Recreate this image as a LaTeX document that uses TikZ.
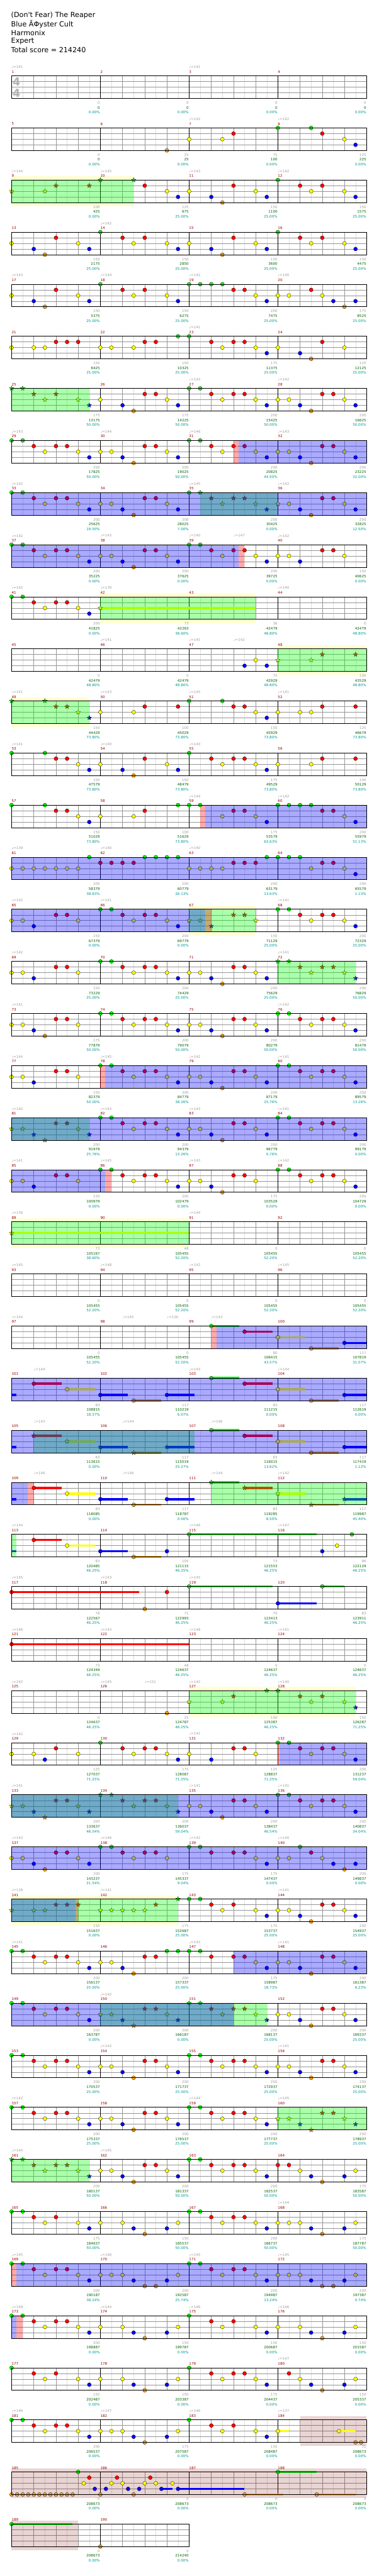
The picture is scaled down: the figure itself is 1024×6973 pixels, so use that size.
\documentclass[tikz,border=0pt]{standalone}
\usepackage{fontspec}
\setmainfont{DejaVu Sans}[Ligatures=TeXOff]
\usetikzlibrary{shapes.geometric}

\definecolor{colg}{RGB}{0,255,0}
\definecolor{colr}{RGB}{255,0,0}
\definecolor{coly}{RGB}{255,255,0}
\definecolor{colb}{RGB}{0,0,255}
\definecolor{colo}{RGB}{255,165,0}
\definecolor{barred}{RGB}{150,0,0}
\definecolor{tempogrey}{RGB}{160,160,160}
\definecolor{totgreen}{RGB}{0,100,0}
\definecolor{pctteal}{RGB}{0,150,150}
\definecolor{palesp}{RGB}{255,255,210}
\definecolor{solored}{RGB}{128,0,0}
\definecolor{gridlight}{RGB}{222,222,222}
\definecolor{gridmid}{RGB}{150,150,150}

% lane of each fret colour
\def\laneg{0}\def\laner{1}\def\laney{2}\def\laneb{3}\def\laneo{4}

% staff of one row, n eighths long
\newcommand{\StaffGrid}[1]{%
  \pgfmathtruncatemacro\lastx{#1-1}%
  \foreach \i in {1,3,...,\lastx} \draw[eighthline] (\i,0) -- (\i,4);
  \foreach \j in {1,2,3} \draw[laneline] (0,\j) -- (#1,\j);
  \foreach \i in {2,4,...,\lastx} \draw[beatline] (\i,0) -- (\i,4);
  \foreach \i in {8,16,...,\lastx} \draw[barline] (\i,0) -- (\i,4);
}
\newcommand{\StaffBox}[1]{\draw[staffbox] (0,0) rectangle (#1,4);}
% notes, star notes and sustains
\newcommand{\Notes}[1]{\foreach \p/\c [count=\i] in {#1} {%
  \edef\lanenum{\csname lane\c\endcsname}%
  \node[note=\c] (n\rowid-\i) at (\p,\lanenum) {};}}
\newcommand{\Stars}[1]{\foreach \p/\c [count=\i] in {#1} {%
  \edef\lanenum{\csname lane\c\endcsname}%
  \node[spnote=\c] (st\rowid-\i) at (\p,\lanenum) {};}}
\newcommand{\Sus}[1]{\foreach \a/\b/\c in {#1} {%
  \edef\lanenum{\csname lane\c\endcsname}%
  \draw[sus=\c] (\a,\lanenum) -- (\b,\lanenum);}}
% shaded zones
\newcommand{\PaleZone}[2]{\fill[palesp] (#1,-0.656) rectangle (#2,4.656);
  \fill[white] (#1,0) rectangle (#2,4);}
\newcommand{\SoloZone}[2]{\fill[solozone] (#1,-0.656) rectangle (#2,4.656);}
\newcommand{\PhraseZone}[2]{\fill[phrase] (#1,0) rectangle (#2,4);}
\newcommand{\ActZone}[2]{\fill[active] (#1,0) rectangle (#2,4);}
\newcommand{\EarlyZone}[2]{\fill[early] (#1,0) rectangle (#2,4);}
% texts round a row
\newcommand{\Bars}[1]{\foreach \k in {1,...,#1} {%
  \pgfmathtruncatemacro\mnum{4*\rowid+\k}%
  \node[barno] (m\mnum) at ({8*(\k-1)},-0.72) {\mnum};}}
\newcommand{\Tempi}[1]{\foreach \p/\t [count=\i] in {#1}
  \node[tempo] (tm\rowid-\i) at (\p,-1.57) {♩=\t};}
\newcommand{\Counts}[1]{\foreach \a/\b/\c [count=\k] in {#1} {%
  \node[cnt] (cn\rowid-\k) at (8*\k,4.79) {\a};
  \node[tot] (tt\rowid-\k) at (8*\k,5.64) {\b};
  \node[pct] (pc\rowid-\k) at (8*\k,6.49) {\c\%};}}

\begin{document}
\begin{tikzpicture}[
    x=1pt, y=-1pt,
    chartrow/.style={shift={(31.35pt,{-(205.3+141*#1)*1pt})}, x=30pt, y=-15.25pt, rowid=#1},
    rowid/.code={\def\rowid{#1}},
    eighthline/.style={draw=gridlight, line width=0.6pt},
    beatline/.style={draw=gridmid, line width=0.6pt},
    laneline/.style={draw=gridmid, line width=0.8pt},
    barline/.style={draw=black, line width=0.7pt},
    staffbox/.style={draw=black, line width=1.2pt},
    note/.style={circle, draw=black, line width=0.5pt, fill=col#1,
        minimum size=10.5pt, inner sep=0pt},
    spnote/.style={shape=star, star points=5, star point ratio=2.3,
        draw=black, line width=0.4pt, fill=col#1, minimum size=13pt, inner sep=0pt},
    sus/.style={draw=col#1, line width=6pt},
    phrase/.style={fill=colg, opacity=0.333},
    active/.style={fill=colb, opacity=0.333},
    early/.style={fill=colr, opacity=0.333},
    solozone/.style={fill=solored, opacity=0.17},
    title/.style={anchor=west, inner sep=0pt, font=\fontsize{19}{22}\selectfont},
    timesig/.style={inner sep=0pt, text=black!30, font=\fontsize{30}{30}\selectfont\bfseries},
    barno/.style={anchor=west, inner sep=0pt, text=barred, font=\fontsize{9.5}{11}\selectfont},
    tempo/.style={anchor=west, inner sep=0pt, text=tempogrey, font=\fontsize{9.5}{11}\selectfont},
    cnt/.style={anchor=east, inner sep=0pt, xshift=-1pt, text=tempogrey, font=\fontsize{9.5}{11}\selectfont},
    tot/.style={cnt, text=totgreen},
    pct/.style={cnt, text=pctteal}
]
\useasboundingbox (0,0) rectangle (1024,6973);
\fill[white] (0,0) rectangle (1024,6973);

% Header
\node[title] (song) at (30,42.3) {(Don't Fear) The Reaper};
\node[title] (artist) at (30,65) {Blue ÃΦyster Cult};
\node[title] (charter) at (30,88.3) {Harmonix};
\node[title] (level) at (30,111) {Expert};
\node[title] (total) at (30,134.3) {Total score = 214240};

% measures 1-4
\begin{scope}[chartrow=0]
  \StaffGrid{32}
  \StaffBox{32}
  \node[timesig] (sig1) at (0.445,1.02) {4};
  \node[timesig] (sig2) at (0.445,3.04) {4};
  \Bars{4}
  \Tempi{0/141,16/141}
  \Counts{0/0/0.00,0/0/0.00,0/0/0.00,0/0/0.00}
\end{scope}

% measures 5-8
\begin{scope}[chartrow=1]
  \StaffGrid{32}
  \Notes{14/o,16/y,19/y,20/r,24/g,27/g,28/r,30/y,31/b}
  \StaffBox{32}
  \Bars{4}
  \Tempi{16/142,24/142}
  \Counts{0/0/0.00,25/25/0.00,75/100/0.00,125/225/0.00}
\end{scope}

% measures 9-12
\begin{scope}[chartrow=2]
  \PaleZone{0}{11}
  \StaffGrid{32}
  \Notes{12/r,14/y,15/b,16/y,18/b,19/o,20/r,22/y,23/b,24/g,26/r,27/y,28/r,30/y,31/b}
  \Stars{0/y,3/y,4/r,7/r,8/g,11/g}
  \PhraseZone{0}{11}
  \StaffBox{32}
  \Bars{4}
  \Tempi{0/144,8/145,16/143,24/142}
  \Counts{100/425/0.00,125/675/25.00,150/1100/25.00,150/1575/25.00}
\end{scope}

% measures 13-16
\begin{scope}[chartrow=3]
  \StaffGrid{32}
  \Notes{0/y,2/b,3/o,4/r,6/y,7/b,8/g,10/r,11/y,12/r,14/y,15/b,16/y,18/b,19/o,20/r,22/y,23/b,24/g,26/r,27/y,28/r,30/y,31/b}
  \StaffBox{32}
  \Bars{4}
  \Tempi{8/142}
  \Counts{150/2175/25.00,150/2850/25.00,150/3600/25.00,150/4475/25.00}
\end{scope}

% measures 17-20
\begin{scope}[chartrow=4]
  \StaffGrid{32}
  \Notes{0/y,2/b,3/o,4/r,6/y,7/b,8/g,10/r,11/y,12/r,14/y,15/b,16/g,17/g,18/g,19/g,20/r,21/r,22/y,23/b,24/y,25/y,27/r,28/y,29/b,30/o,31/b}
  \StaffBox{32}
  \Bars{4}
  \Tempi{0/143,8/144,16/142,24/140}
  \Counts{150/5375/25.00,150/6275/25.00,200/7475/25.00,175/8525/25.00}
\end{scope}

% measures 21-24
\begin{scope}[chartrow=5]
  \StaffGrid{32}
  \Notes{0/y,2/y,3/y,4/r,5/r,6/r,8/y,9/y,11/y,12/r,13/r,15/g,16/g,18/r,19/y,20/r,21/r,22/y,23/b,24/y,26/b,27/o,28/r,30/y}
  \StaffBox{32}
  \Bars{4}
  \Tempi{16/141}
  \Counts{150/9425/25.00,150/10325/25.00,175/11375/25.00,125/12125/25.00}
\end{scope}

% measures 25-28
\begin{scope}[chartrow=6]
  \StaffGrid{32}
  \Notes{8/y,10/b,11/o,12/r,13/r,14/y,15/b,16/g,17/g,18/r,19/y,20/r,21/r,22/y,23/b,24/y,25/y,26/b,27/o,28/r,29/r,30/y,31/b}
  \Stars{0/g,1/g,2/r,3/y,4/r,6/y,7/b}
  \PhraseZone{0}{7}
  \StaffBox{32}
  \Bars{4}
  \Tempi{16/143,24/142}
  \Counts{175/13175/50.00,175/14225/50.00,200/15425/50.00,200/16625/50.00}
\end{scope}

% measures 29-32
\begin{scope}[chartrow=7]
  \StaffGrid{32}
  \Notes{0/g,1/g,2/r,3/y,4/r,5/r,6/y,7/b,8/y,9/y,10/b,11/o,12/r,13/r,14/y,15/b,16/g,17/g,18/r,19/y,20/r,21/r,22/y,23/b,24/y,25/y,26/b,27/o,28/r,29/r,30/y,31/b}
  \ActZone{20.45}{32}
  \EarlyZone{20}{20.45}
  \StaffBox{32}
  \Bars{4}
  \Tempi{0/143,8/144,16/146,24/143}
  \Counts{200/17825/50.00,200/19025/50.00,200/20825/44.50,200/23225/32.00}
\end{scope}

% measures 33-36
\begin{scope}[chartrow=8]
  \StaffGrid{32}
  \Notes{0/g,1/g,2/r,3/y,4/r,5/r,6/y,7/b,8/y,9/y,10/b,11/o,12/r,13/r,14/y,15/b,16/g,25/y,26/b,27/o,28/r,29/r,30/y,31/b}
  \Stars{17/g,18/r,19/y,20/r,21/r,22/y,23/b,24/y}
  \PhraseZone{17}{24}
  \ActZone{0}{32}
  \StaffBox{32}
  \Bars{4}
  \Tempi{0/142,16/145,24/142}
  \Counts{200/25625/19.50,200/28025/7.00,200/30425/0.00,200/32825/12.50}
\end{scope}

% measures 37-40
\begin{scope}[chartrow=9]
  \StaffGrid{32}
  \Notes{0/g,1/g,2/r,3/y,4/r,5/r,6/y,7/b,8/y,9/y,10/b,11/o,12/r,13/r,14/y,15/b,16/g,17/g,18/r,19/y,20/r,21/r,22/y,23/b,24/y,25/y,26/b,28/r,29/r,30/y}
  \ActZone{0}{20.45}
  \EarlyZone{20.45}{21}
  \StaffBox{32}
  \Bars{4}
  \Tempi{0/142,8/143,16/140,20/147,24/142}
  \Counts{200/35225/0.00,200/37625/0.00,200/39725/0.00,150/40625/0.00}
\end{scope}

% measures 41-44
\begin{scope}[chartrow=10]
  \PaleZone{8}{22}
  \StaffGrid{32}
  \Sus{8/22/y}
  \Notes{0/g,1/g,2/r,3/y,4/r,5/r,6/y,7/b}
  \Stars{8/y}
  \PhraseZone{8}{22}
  \StaffBox{32}
  \Bars{4}
  \Tempi{0/142,8/139,24/140}
  \Counts{200/41825/0.00,73/42263/38.60,36/42479/48.80,0/42479/48.80}
\end{scope}

% measures 45-48
\begin{scope}[chartrow=11]
  \PaleZone{24}{32}
  \StaffGrid{32}
  \Notes{21/b,22/y,23/b}
  \Stars{24/y,27/y,28/r,31/r}
  \PhraseZone{24}{32}
  \StaffBox{32}
  \Bars{4}
  \Tempi{8/141,16/145,20/142}
  \Counts{0/42479/48.80,0/42479/48.80,75/42929/48.80,100/43529/48.80}
\end{scope}

% measures 49-52
\begin{scope}[chartrow=12]
  \PaleZone{0}{7}
  \StaffGrid{32}
  \Notes{8/y,11/y,12/r,15/r,16/g,19/g,20/r,21/r,22/y,23/b,24/y,26/y,27/y,28/r,31/r}
  \Stars{0/g,3/g,4/r,5/r,6/y,7/b}
  \PhraseZone{0}{7}
  \StaffBox{32}
  \Bars{4}
  \Tempi{0/141,8/143,16/145,24/141}
  \Counts{150/44429/73.80,100/45029/73.80,150/45929/73.80,125/46679/73.80}
\end{scope}

% measures 53-56
\begin{scope}[chartrow=13]
  \StaffGrid{32}
  \Notes{0/g,3/g,4/r,5/r,6/y,7/b,8/y,10/b,11/o,12/r,14/y,15/b,16/g,18/r,19/y,20/r,21/r,22/y,23/b,24/y,27/y,28/r,31/r}
  \StaffBox{32}
  \Bars{4}
  \Tempi{0/141,8/140,16/140}
  \Counts{150/47579/73.80,150/48479/73.80,175/49529/73.80,100/50129/73.80}
\end{scope}

% measures 57-60
\begin{scope}[chartrow=14]
  \StaffGrid{32}
  \Notes{0/g,3/g,4/r,5/r,6/y,7/b,8/y,11/y,12/r,15/g,16/g,17/g,19/y,20/r,21/r,22/y,23/b,24/g,25/g,26/g,27/g,28/r,29/r,30/y,31/b}
  \ActZone{17.45}{32}
  \EarlyZone{17}{17.45}
  \StaffBox{32}
  \Bars{4}
  \Tempi{16/144,24/142}
  \Counts{150/51029/73.80,100/51629/73.80,175/53579/63.63,200/55979/51.13}
\end{scope}

% measures 61-64
\begin{scope}[chartrow=15]
  \StaffGrid{32}
  \Notes{0/y,1/y,2/y,3/y,4/y,5/y,6/y,7/g,8/r,9/r,10/r,11/r,12/g,13/g,14/g,15/g,16/y,17/y,18/y,19/y,20/r,21/r,22/r,23/g,24/g,25/g,26/g,27/y,28/r,29/r,30/y,31/b}
  \ActZone{0}{32}
  \StaffBox{32}
  \Bars{4}
  \Tempi{0/139,8/140,16/140}
  \Counts{200/58379/38.63,200/60779/26.13,200/63179/13.63,200/65579/1.13}
\end{scope}

% measures 65-68
\begin{scope}[chartrow=16]
  \PaleZone{16}{22}
  \StaffGrid{32}
  \Notes{0/y,1/y,2/b,4/r,5/r,6/y,8/g,9/g,10/r,11/y,12/r,13/r,14/y,15/b,24/g,25/g,26/r,27/y,28/r,29/r,30/y,31/b}
  \Stars{16/y,17/y,18/b,20/r,21/r,22/y}
  \PhraseZone{16}{22}
  \ActZone{0}{17.45}
  \EarlyZone{17.45}{18}
  \StaffBox{32}
  \Bars{4}
  \Tempi{0/142,8/141,24/141}
  \Counts{150/67379/0.00,200/69779/0.00,150/71129/25.00,200/72329/25.00}
\end{scope}

% measures 69-72
\begin{scope}[chartrow=17]
  \StaffGrid{32}
  \Notes{0/y,1/y,2/b,4/r,5/r,6/y,8/g,9/g,10/r,11/y,12/r,13/r,14/y,15/b,16/y,17/y,18/b,19/o,20/r,21/r,22/y,23/b}
  \Stars{24/g,25/g,26/r,27/y,28/r,29/r,30/y,31/b}
  \PhraseZone{24}{31}
  \StaffBox{32}
  \Bars{4}
  \Tempi{0/142,24/141}
  \Counts{150/73229/25.00,200/74429/25.00,200/75629/25.00,200/76829/50.00}
\end{scope}

% measures 73-76
\begin{scope}[chartrow=18]
  \StaffGrid{32}
  \Notes{0/y,1/y,2/b,3/o,4/r,5/r,6/y,8/g,9/g,10/r,11/y,12/r,13/r,14/y,15/b,16/y,17/y,18/b,19/o,20/r,21/r,22/y,23/b,24/g,25/g,26/r,27/y,28/r,29/r,30/y,31/b}
  \StaffBox{32}
  \Bars{4}
  \Tempi{0/141,24/142}
  \Counts{175/77879/50.00,200/79079/50.00,200/80279/50.00,200/81479/50.00}
\end{scope}

% measures 77-80
\begin{scope}[chartrow=19]
  \StaffGrid{32}
  \Notes{0/y,1/y,2/b,4/r,5/r,6/y,8/g,9/g,10/r,11/y,12/r,13/r,14/y,15/b,16/y,17/y,18/b,19/o,20/r,21/r,22/y,23/b,24/g,25/g,26/r,27/y,28/r,29/r,30/y,31/b}
  \ActZone{8.45}{32}
  \EarlyZone{8}{8.45}
  \StaffBox{32}
  \Bars{4}
  \Tempi{0/144,8/145,16/142,24/141}
  \Counts{150/82379/50.00,200/84779/38.26,200/87179/25.76,200/89579/13.26}
\end{scope}

% measures 81-84
\begin{scope}[chartrow=20]
  \StaffGrid{32}
  \Notes{8/g,9/g,10/r,11/y,12/r,13/r,14/y,15/b,16/y,17/y,18/b,19/o,20/r,21/r,22/y,23/b,24/g,25/g,26/r,27/y,28/r,29/r,30/y,31/b}
  \Stars{0/y,1/y,2/b,3/o,4/r,5/r,6/y,7/b}
  \PhraseZone{0}{7}
  \ActZone{0}{32}
  \StaffBox{32}
  \Bars{4}
  \Tempi{0/140,8/143,16/143,24/141}
  \Counts{200/91979/25.76,200/94379/13.26,200/96779/0.76,200/99179/0.00}
\end{scope}

% measures 85-88
\begin{scope}[chartrow=21]
  \StaffGrid{32}
  \Notes{0/y,1/y,2/b,4/r,5/r,6/y,8/g,9/g,10/r,11/y,12/r,13/r,14/y,15/b,16/y,17/y,18/b,19/o,20/r,21/r,22/y,24/g,25/g,26/r,27/y,28/r,29/r,30/y,31/b}
  \ActZone{0}{8.45}
  \EarlyZone{8.45}{9}
  \StaffBox{32}
  \Bars{4}
  \Tempi{0/141,8/145,16/143,24/142}
  \Counts{150/100979/0.00,200/102479/0.00,175/103529/0.00,200/104729/0.00}
\end{scope}

% measures 89-92
\begin{scope}[chartrow=22]
  \PaleZone{0}{16}
  \StaffGrid{32}
  \Sus{0/16/y}
  \Stars{0/y}
  \PhraseZone{0}{16}
  \StaffBox{32}
  \Bars{4}
  \Tempi{0/136,16/144}
  \Counts{73/105167/38.60,48/105455/52.20,0/105455/52.20,0/105455/52.20}
\end{scope}

% measures 93-96
\begin{scope}[chartrow=23]
  \StaffGrid{32}
  \StaffBox{32}
  \Bars{4}
  \Tempi{0/145,8/148,16/142,24/145}
  \Counts{0/105455/52.20,0/105455/52.20,0/105455/52.20,0/105455/52.20}
\end{scope}

% measures 97-100
\begin{scope}[chartrow=24]
  \StaffGrid{32}
  \Sus{18/20.5/g,21/23.5/r,24/26.5/y,27/29.5/o,30/32/b}
  \Notes{18/g,21/r,24/y,27/o,30/b}
  \ActZone{18.45}{32}
  \EarlyZone{18}{18.45}
  \StaffBox{32}
  \Bars{4}
  \Tempi{0/144,10/145,14/136,18/143}
  \Counts{0/105455/52.20,0/105455/52.20,80/106415/43.57,117/107819/31.07}
\end{scope}

% measures 101-104
\begin{scope}[chartrow=25]
  \StaffGrid{32}
  \Sus{0/0.45/b,2/4.5/r,5/7.5/y,8/10.5/b,11/13.5/o,14/16.5/b,18/20.5/g,21/23.5/r,24/26.5/y,27/29.5/o,30/32/b}
  \Notes{2/r,5/y,8/b,11/o,14/b,18/g,21/r,24/y,27/o,30/b}
  \ActZone{0}{32}
  \StaffBox{32}
  \Bars{4}
  \Tempi{2/144,16/143,24/144}
  \Counts{83/108815/18.57,117/110219/6.07,83/111215/0.00,117/112619/0.00}
\end{scope}

% measures 105-108
\begin{scope}[chartrow=26]
  \StaffGrid{32}
  \Sus{0/0.45/b,2/4.5/r,5/7.5/y,8/10.5/b,11/13.5/o,14/16.5/b,18/20.5/g,21/23.5/r,24/26.5/y,27/29.5/o,30/32/b}
  \Notes{18/g,21/r,24/y,27/o,30/b}
  \Stars{2/r,5/y,8/b,11/o,14/b}
  \PhraseZone{2}{16.5}
  \ActZone{0}{32}
  \StaffBox{32}
  \Bars{4}
  \Tempi{2/143,10/144,18/146}
  \Counts{83/113615/0.00,117/115019/25.27,83/116015/13.62,117/117419/1.12}
\end{scope}

% measures 109-112
\begin{scope}[chartrow=27]
  \StaffGrid{32}
  \Sus{0/0.45/b,2/4.5/r,5/7.5/y,8/10.5/b,11/13.5/o,14/16.5/b,18/20.5/g,21/23.5/r,24/26.5/y,27/29.5/o,30/32/b}
  \Notes{2/r,5/y,8/b,11/o,14/b}
  \Stars{18/g,21/r,24/y,27/o,30/b}
  \PhraseZone{18}{32}
  \ActZone{0}{1.45}
  \EarlyZone{1.45}{2}
  \StaffBox{32}
  \Bars{4}
  \Tempi{2/146,10/146,18/144,24/142}
  \Counts{83/118085/0.00,117/118787/0.00,83/119285/8.50,117/119987/45.40}
\end{scope}

% measures 113-116
\begin{scope}[chartrow=28]
  \StaffGrid{32}
  \Sus{0/0.45/b,2/4.5/r,5/7.5/y,8/10.5/b,11/13.5/o,16/27.5/g}
  \Notes{2/r,5/y,8/b,11/o,14/b,16/g,28/b,29.33/y,30.67/g}
  \PhraseZone{0}{0.45}
  \StaffBox{32}
  \Bars{4}
  \Tempi{0/144,16/146,24/147}
  \Counts{83/120485/46.25,105/121115/46.25,73/121553/46.25,96/122129/46.25}
\end{scope}

% measures 117-120
\begin{scope}[chartrow=29]
  \StaffGrid{32}
  \Sus{0/11.5/r,16/23.5/g,24/27.5/b,28/30/g}
  \Notes{0/r,12/o,14/r,16/g,24/b,28/g}
  \StaffBox{32}
  \Bars{4}
  \Tempi{0/145,8/143,16/145}
  \Counts{78/122567/46.25,71/122993/46.25,70/123413/46.25,83/123911/46.25}
\end{scope}

% measures 121-124
\begin{scope}[chartrow=30]
  \StaffGrid{32}
  \Sus{0/16/r}
  \Notes{0/r}
  \StaffBox{32}
  \Bars{4}
  \Tempi{0/146,8/143,16/148,24/141}
  \Counts{73/124349/46.25,48/124637/46.25,0/124637/46.25,0/124637/46.25}
\end{scope}

% measures 125-128
\begin{scope}[chartrow=31]
  \PaleZone{16}{31}
  \StaffGrid{32}
  \Notes{14/o}
  \Stars{16/y,19/y,20/r,23/g,24/g,26/r,27/y,28/r,30/y,31/b}
  \PhraseZone{16}{31}
  \StaffBox{32}
  \Bars{4}
  \Tempi{0/142,8/145,12/151,16/142,24/140}
  \Counts{0/124637/46.25,25/124787/46.25,100/125387/46.25,150/126287/71.25}
\end{scope}

% measures 129-132
\begin{scope}[chartrow=32]
  \StaffGrid{32}
  \Notes{0/y,2/y,3/b,4/r,6/y,8/g,10/r,11/y,12/r,13/r,14/y,15/b,16/y,18/b,20/r,21/r,22/y,24/g,25/g,26/r,27/y,28/r,29/r,30/y,31/b}
  \ActZone{24.15}{32}
  \EarlyZone{24}{24.15}
  \StaffBox{32}
  \Bars{4}
  \Tempi{0/142,16/141}
  \Counts{125/127037/71.25,175/128087/71.25,125/128837/71.25,200/131237/59.04}
\end{scope}

% measures 133-136
\begin{scope}[chartrow=33]
  \StaffGrid{32}
  \Notes{16/y,17/y,18/b,19/o,20/r,21/r,22/y,23/b,24/g,25/g,26/r,27/y,28/r,29/r,30/y,31/b}
  \Stars{0/y,1/y,2/b,3/o,4/r,5/r,6/y,7/b,8/g,9/g,10/r,11/y,12/r,13/r,14/y,15/b}
  \PhraseZone{0}{15}
  \ActZone{0}{32}
  \StaffBox{32}
  \Bars{4}
  \Tempi{0/141,16/141,24/141}
  \Counts{200/133637/46.54,200/136037/59.04,200/138437/46.54,200/140837/34.04}
\end{scope}

% measures 137-140
\begin{scope}[chartrow=34]
  \StaffGrid{32}
  \Notes{0/y,1/y,2/b,3/o,4/r,5/r,6/y,7/b,8/g,9/g,10/r,11/y,12/r,13/r,14/y,16/g,17/g,18/r,20/r,21/r,22/y,23/b,24/y,25/y,26/g,27/r,28/y,29/b,30/o,31/b}
  \ActZone{0}{32}
  \StaffBox{32}
  \Bars{4}
  \Tempi{0/143,8/146,16/142,24/140}
  \Counts{200/143237/21.54,175/145337/9.04,175/147437/0.00,200/149837/0.00}
\end{scope}

% measures 141-144
\begin{scope}[chartrow=35]
  \PaleZone{0}{15}
  \StaffGrid{32}
  \Notes{16/g,17/g,18/r,19/y,20/r,22/y,23/b,24/y,25/y,26/b,27/o,28/r,29/r,30/y,31/b}
  \Stars{0/y,2/y,3/y,4/r,5/r,6/r,8/y,9/y,10/y,11/y,12/y,13/r,15/g}
  \PhraseZone{0}{15}
  \ActZone{0}{5.75}
  \EarlyZone{5.75}{6}
  \StaffBox{32}
  \Bars{4}
  \Tempi{0/139,8/141,24/141}
  \Counts{150/151637/0.00,175/152687/25.00,175/153737/25.00,200/154937/25.00}
\end{scope}

% measures 145-148
\begin{scope}[chartrow=36]
  \StaffGrid{32}
  \Notes{0/g,1/g,2/r,3/y,4/r,5/r,6/y,7/b,8/y,9/y,10/b,11/o,12/r,13/r,14/g,15/g,16/g,17/g,18/r,20/r,21/r,22/y,23/b,24/y,25/y,26/b,27/o,28/r,29/r,30/y,31/b}
  \ActZone{20}{32}
  \StaffBox{32}
  \Bars{4}
  \Tempi{0/141,16/143,24/141}
  \Counts{200/156137/25.00,200/157337/25.00,175/158987/18.73,200/161387/6.23}
\end{scope}

% measures 149-152
\begin{scope}[chartrow=37]
  \StaffGrid{32}
  \Notes{0/g,1/g,2/r,3/y,4/r,5/r,6/y,7/b,24/y,25/y,26/b,27/o,28/r,29/r,30/y,31/b}
  \Stars{8/y,9/y,10/b,11/o,12/r,13/r,14/y,15/b,16/g,17/g,18/r,19/y,20/r,21/r,22/y,23/b}
  \PhraseZone{8}{23}
  \ActZone{0}{20}
  \StaffBox{32}
  \Bars{4}
  \Tempi{8/142}
  \Counts{200/163787/0.00,200/166187/0.00,200/168137/25.00,200/169337/25.00}
\end{scope}

% measures 153-156
\begin{scope}[chartrow=38]
  \StaffGrid{32}
  \Notes{0/g,1/g,2/r,3/y,4/r,5/r,6/y,7/b,8/y,9/y,10/b,11/o,12/r,13/r,14/y,15/b,16/g,17/g,18/r,19/y,20/r,21/r,22/y,23/b,24/y,25/y,26/b,27/o,28/r,29/r,30/y,31/b}
  \StaffBox{32}
  \Bars{4}
  \Tempi{8/142,24/141}
  \Counts{200/170537/25.00,200/171737/25.00,200/172937/25.00,200/174137/25.00}
\end{scope}

% measures 157-160
\begin{scope}[chartrow=39]
  \StaffGrid{32}
  \Notes{0/g,1/g,2/r,3/y,4/r,5/r,6/y,7/b,8/y,9/y,10/b,11/o,12/r,13/r,14/y,15/b,16/g,17/g,18/r,19/y,20/r,21/r,22/y,23/b}
  \Stars{24/y,25/y,26/b,27/o,28/r,29/r,30/y,31/b}
  \PhraseZone{24}{32}
  \StaffBox{32}
  \Bars{4}
  \Tempi{0/142,16/144,24/145}
  \Counts{200/175337/25.00,200/176537/25.00,200/177737/25.00,200/178937/25.00}
\end{scope}

% measures 161-164
\begin{scope}[chartrow=40]
  \StaffGrid{32}
  \Notes{8/y,9/y,10/b,11/o,12/r,13/r,14/y,15/b,16/g,17/g,18/r,19/y,20/r,21/r,22/y,23/b,24/r,25/r,26/y,27/b,28/o,30/b,31/y}
  \Stars{0/g,1/g,2/r,3/y,4/r,5/r,6/y,7/b}
  \PhraseZone{0}{7}
  \StaffBox{32}
  \Bars{4}
  \Tempi{0/144,8/145}
  \Counts{200/180137/50.00,200/181337/50.00,200/182537/50.00,175/183587/50.00}
\end{scope}

% measures 165-168
\begin{scope}[chartrow=41]
  \StaffGrid{32}
  \Notes{0/g,1/g,2/r,3/y,4/r,6/y,7/b,8/y,10/y,11/b,12/o,14/b,15/y,16/g,17/g,18/r,19/y,20/r,21/r,22/y,23/b,24/y,25/y,26/y,27/b,28/o,30/b,31/y}
  \StaffBox{32}
  \Bars{4}
  \Tempi{24/144}
  \Counts{175/184637/50.00,150/185537/50.00,200/186737/50.00,175/187787/50.00}
\end{scope}

% measures 169-172
\begin{scope}[chartrow=42]
  \StaffGrid{32}
  \Notes{0/g,1/g,2/r,3/y,4/r,5/r,6/y,7/b,8/y,9/y,10/y,11/b,12/o,13/o,14/b,15/y,16/g,17/g,18/r,19/y,20/r,21/r,22/y,23/b,24/y,25/y,26/y,27/b,28/o,29/o,30/b,31/y}
  \ActZone{0.45}{32}
  \EarlyZone{0}{0.45}
  \StaffBox{32}
  \Bars{4}
  \Tempi{0/145,8/146,16/145,24/145}
  \Counts{200/190187/38.24,200/192587/25.74,200/194987/13.24,200/197387/0.74}
\end{scope}

% measures 173-176
\begin{scope}[chartrow=43]
  \StaffGrid{32}
  \Notes{0/g,1/g,2/r,3/y,4/r,5/r,6/y,7/b,8/y,10/y,11/b,12/o,14/b,15/y,16/g,18/r,19/y,20/r,22/y,23/b,24/y,26/y,27/b,28/o,30/b,31/y}
  \ActZone{0}{0.45}
  \EarlyZone{0.45}{1}
  \StaffBox{32}
  \Bars{4}
  \Tempi{0/149,8/144,16/146,24/146}
  \Counts{200/198887/0.00,150/199787/0.00,150/200687/0.00,150/201587/0.00}
\end{scope}

% measures 177-180
\begin{scope}[chartrow=44]
  \StaffGrid{32}
  \Notes{0/g,2/r,3/y,4/r,6/y,7/b,8/y,10/y,11/b,12/o,14/b,15/y,16/g,18/r,19/y,20/r,21/r,22/y,23/b,25/r,26/y,27/b,28/o,30/b,31/y}
  \StaffBox{32}
  \Bars{4}
  \Tempi{24/147}
  \Counts{150/202487/0.00,150/203387/0.00,175/204437/0.00,150/205337/0.00}
\end{scope}

% measures 181-184
\begin{scope}[chartrow=45]
  \StaffGrid{32}
  \SoloZone{26}{32}
  \Sus{24/25/y,29.5/31/y}
  \Notes{0/g,1/g,2/r,3/y,4/r,5/r,6/y,7/b,8/y,9/y,10/y,11/b,12/o,14/b,15/y,16/g,18/r,19/y,20/r,22/y,23/b,24/y,29.5/y,31/o,31.5/o}
  \StaffBox{32}
  \Bars{4}
  \Tempi{0/146,8/147,16/146,24/137}
  \Counts{200/206537/0.00,175/207587/0.00,150/208487/0.00,31/208673/0.00}
\end{scope}

% measures 185-188
\begin{scope}[chartrow=46]
  \StaffGrid{32}
  \SoloZone{0}{32}
  \Sus{13.5/14.5/b,15/21/b,21/24.5/o,24/27.5/g,27.5/31/o}
  \Notes{0/o,0.5/o,1/o,1.5/o,2/o,2.5/o,3/o,3.5/o,4/o,4.5/o,5/o,5.5/o,6/g,6.5/y,7/r,7.5/b,8/o,8.5/b,9/y,9.5/r,10/y,10.5/b,11/o,11.5/b,12/y,12.5/r,13/y,13.5/b,14.5/y,15/b,21/o,24/g,27.5/o}
  \StaffBox{32}
  \Bars{4}
  \Counts{0/208673/0.00,0/208673/0.00,0/208673/0.00,0/208673/0.00}
\end{scope}

% measures 189-190
\begin{scope}[chartrow=47]
  \StaffGrid{16}
  \SoloZone{0}{6}
  \Sus{0/5.5/g}
  \Notes{0/g,8/o}
  \StaffBox{16}
  \Bars{2}
  \Counts{0/208673/0.00,0/214240/0.00}
\end{scope}

\end{tikzpicture}
\end{document}
